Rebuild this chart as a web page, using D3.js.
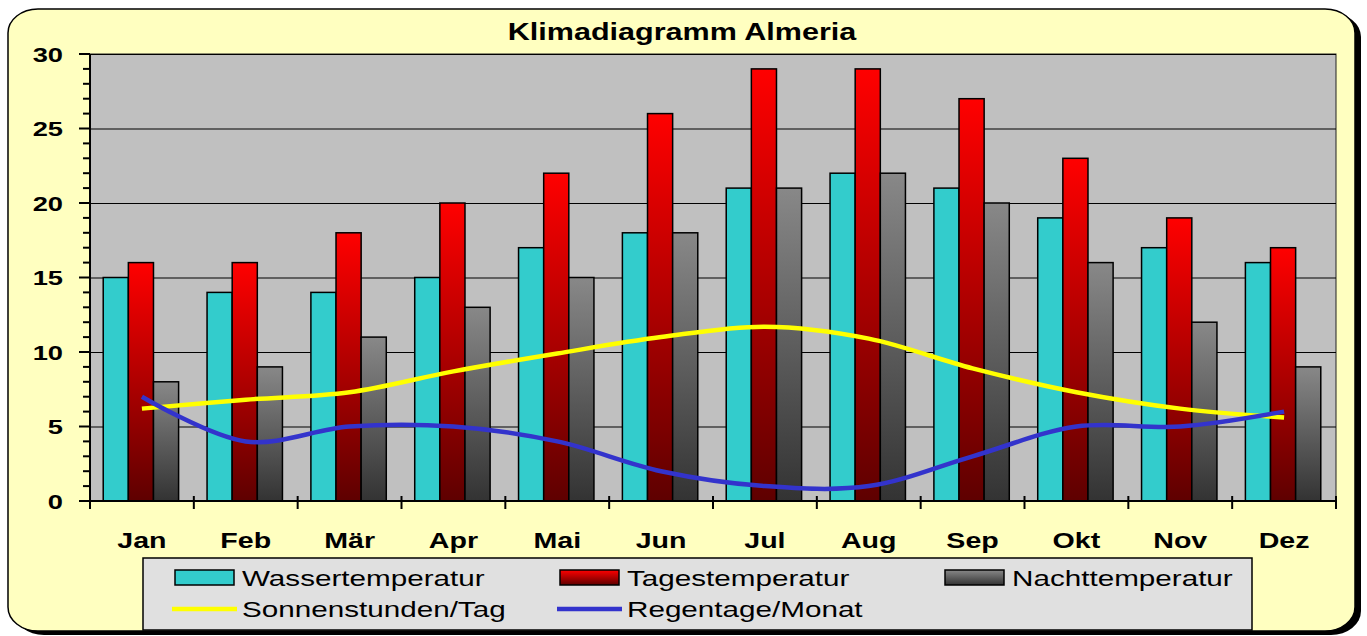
<!DOCTYPE html>
<html>
<head>
<meta charset="utf-8">
<script src="https://cdn.jsdelivr.net/npm/d3@7"></script>
<style>
  body { margin: 0; background: #ffffff; }
  svg { display: block; }
  text { font-family: "Liberation Sans", Arial, sans-serif; fill: #000; }
</style>
</head>
<body>
<div id="chart"></div>
<script>
let months = ["Jan", "Feb", "Mär", "Apr", "Mai", "Jun", "Jul", "Aug", "Sep", "Okt", "Nov", "Dez"];
let wasser = [15, 14, 14, 15, 17, 18, 21, 22, 21, 19, 17, 16];
let tages = [16, 16, 18, 20, 22, 26, 29, 29, 27, 23, 19, 17];
let nacht = [8, 9, 11, 13, 15, 18, 21, 22, 20, 16, 12, 9];
let sonne = [6.2, 6.8, 7.3, 8.7, 9.9, 11.0, 11.7, 10.9, 8.9, 7.3, 6.2, 5.6];
let regen = [7, 4, 5, 5, 4, 2, 1, 1, 3, 5, 5, 6];
let y_ticks = [0, 5, 10, 15, 20, 25, 30];
let bar_names = ["Wassertemperatur", "Tagestemperatur", "Nachttemperatur"];
let line_names = ["Sonnenstunden/Tag", "Regentage/Monat"];
let title_text = "Klimadiagramm Almeria";

let chart_width = 1367;
let chart_height = 636;
let stretch = 1.3;   // the original picture is stretched sideways

let plot = { left: 90, right: 1336, top: 54, bottom: 501 };

let svg = d3.select("#chart")
    .append("svg")
    .attr("width", chart_width)
    .attr("height", chart_height);

let defs = svg.append("defs");

function add_gradient(id, top, bottom) {
    let g = defs.append("linearGradient")
        .attr("id", id)
        .attr("x1", 0).attr("y1", 0)
        .attr("x2", 0).attr("y2", 1);
    g.append("stop").attr("offset", "0%").attr("stop-color", top);
    g.append("stop").attr("offset", "100%").attr("stop-color", bottom);
}
add_gradient("grad_red", "#ff0000", "#5e0000");
add_gradient("grad_gray", "#888888", "#333333");

let fills = ["#33cccc", "url(#grad_red)", "url(#grad_gray)"];
let line_colors = ["#ffff00", "#3333cc"];

// stretched text helper
function stext(parent, x, y, str, opts) {
    let g = parent.append("g")
        .attr("transform", "translate(" + x + "," + y + ") scale(" + stretch + ",1)");
    let t = g.append("text")
        .attr("x", 0)
        .attr("y", 0)
        .style("font-size", opts.size + "px")
        .style("font-weight", opts.bold ? "bold" : "normal")
        .attr("text-anchor", opts.anchor || "start")
        .text(str);
    if (opts.dy) t.attr("dy", opts.dy);
    return t;
}

// frame with shadow
svg.append("rect")
    .attr("x", 14).attr("y", 13)
    .attr("width", 1347).attr("height", 622)
    .attr("rx", 30).attr("ry", 24)
    .attr("fill", "#000");
svg.append("rect")
    .attr("x", 8).attr("y", 9)
    .attr("width", 1347).attr("height", 622)
    .attr("rx", 30).attr("ry", 24)
    .attr("fill", "#ffffc0")
    .attr("stroke", "#000")
    .attr("stroke-width", 1.5);

// title
stext(svg, 682, 40, title_text, { size: 23.5, bold: true, anchor: "middle" });

// scales
let xScale = d3.scaleBand()
    .domain(months)
    .range([plot.left, plot.right]);

let yScale = d3.scaleLinear()
    .domain([0, 30])
    .range([plot.bottom, plot.top]);

let bw = xScale.bandwidth();
let bar_w = bw * 0.242;
let group_off = (bw - 3 * bar_w) / 2 - 1;

// plot background
svg.append("rect")
    .attr("x", plot.left).attr("y", plot.top)
    .attr("width", plot.right - plot.left)
    .attr("height", plot.bottom - plot.top)
    .attr("fill", "#c0c0c0")
    .attr("stroke", "#222")
    .attr("stroke-width", 1);

// gridlines
svg.append("g")
    .selectAll("line")
    .data(y_ticks.filter(function(d) { return d > 0; }))
    .enter()
    .append("line")
    .attr("x1", plot.left).attr("x2", plot.right)
    .attr("y1", function(d) { return yScale(d) + 0.5; })
    .attr("y2", function(d) { return yScale(d) + 0.5; })
    .attr("stroke", "#000")
    .attr("stroke-width", 1);

// bars
let series = [wasser, tages, nacht];
let bar_data = [];
series.forEach(function(vals, si) {
    vals.forEach(function(v, i) {
        bar_data.push({ month: months[i], value: v, s: si });
    });
});

svg.append("g")
    .selectAll("rect")
    .data(bar_data)
    .enter()
    .append("rect")
    .attr("x", function(d) { return xScale(d.month) + group_off + d.s * bar_w; })
    .attr("y", function(d) { return yScale(d.value); })
    .attr("width", bar_w)
    .attr("height", function(d) { return yScale(0) - yScale(d.value); })
    .attr("fill", function(d) { return fills[d.s]; })
    .attr("stroke", "#000")
    .attr("stroke-width", 1.5);

// lines
let chart_line = d3.line()
    .x(function(d, i) { return xScale(months[i]) + bw / 2; })
    .y(function(d) { return yScale(d); })
    .curve(d3.curveCatmullRom.alpha(0.5));

[sonne, regen].forEach(function(vals, li) {
    svg.append("path")
        .attr("d", chart_line(vals))
        .attr("fill", "none")
        .attr("stroke", line_colors[li])
        .attr("stroke-width", 4.5)
        .attr("stroke-linecap", "butt");
});

// y axis
let y_axis = svg.append("g");
y_axis.append("line")
    .attr("x1", plot.left).attr("x2", plot.left)
    .attr("y1", plot.top).attr("y2", plot.bottom + 8)
    .attr("stroke", "#000").attr("stroke-width", 2);

y_axis.selectAll(".minor")
    .data(d3.range(0, 31))
    .enter()
    .append("line")
    .attr("x1", function(d) { return d % 5 === 0 ? plot.left - 11 : plot.left - 7; })
    .attr("x2", plot.left)
    .attr("y1", function(d) { return yScale(d); })
    .attr("y2", function(d) { return yScale(d); })
    .attr("stroke", "#000")
    .attr("stroke-width", 2);

y_ticks.forEach(function(t) {
    stext(y_axis, 63, yScale(t), t, { size: 21, bold: true, anchor: "end", dy: "0.36em" });
});

// x axis
let x_axis = svg.append("g");
x_axis.append("line")
    .attr("x1", plot.left).attr("x2", plot.right)
    .attr("y1", plot.bottom).attr("y2", plot.bottom)
    .attr("stroke", "#000").attr("stroke-width", 2);

x_axis.selectAll(".tick")
    .data(months.concat(["end"]))
    .enter()
    .append("line")
    .attr("x1", function(d, i) { return plot.left + i * bw; })
    .attr("x2", function(d, i) { return plot.left + i * bw; })
    .attr("y1", plot.bottom - 5)
    .attr("y2", plot.bottom + 8)
    .attr("stroke", "#000")
    .attr("stroke-width", 2);

months.forEach(function(m) {
    stext(x_axis, xScale(m) + bw / 2, 548, m, { size: 22, bold: true, anchor: "middle" });
});

// legend
let legend = svg.append("g");
legend.append("rect")
    .attr("x", 143).attr("y", 558)
    .attr("width", 1109).attr("height", 72)
    .attr("fill", "#e0e0e0")
    .attr("stroke", "#000")
    .attr("stroke-width", 1.5);

let col_x = [175, 560, 945];
bar_names.forEach(function(name, i) {
    legend.append("rect")
        .attr("x", col_x[i]).attr("y", 570)
        .attr("width", 59).attr("height", 15)
        .attr("fill", fills[i])
        .attr("stroke", "#000")
        .attr("stroke-width", 1.5);
    stext(legend, col_x[i] + 67, 586, name, { size: 22.8, bold: false });
});

line_names.forEach(function(name, i) {
    legend.append("line")
        .attr("x1", col_x[i] - 3).attr("x2", col_x[i] + 62)
        .attr("y1", 609).attr("y2", 609)
        .attr("stroke", line_colors[i])
        .attr("stroke-width", 4.5);
    stext(legend, col_x[i] + 67, 617, name, { size: 22.8, bold: false });
});
</script>
</body>
</html>
